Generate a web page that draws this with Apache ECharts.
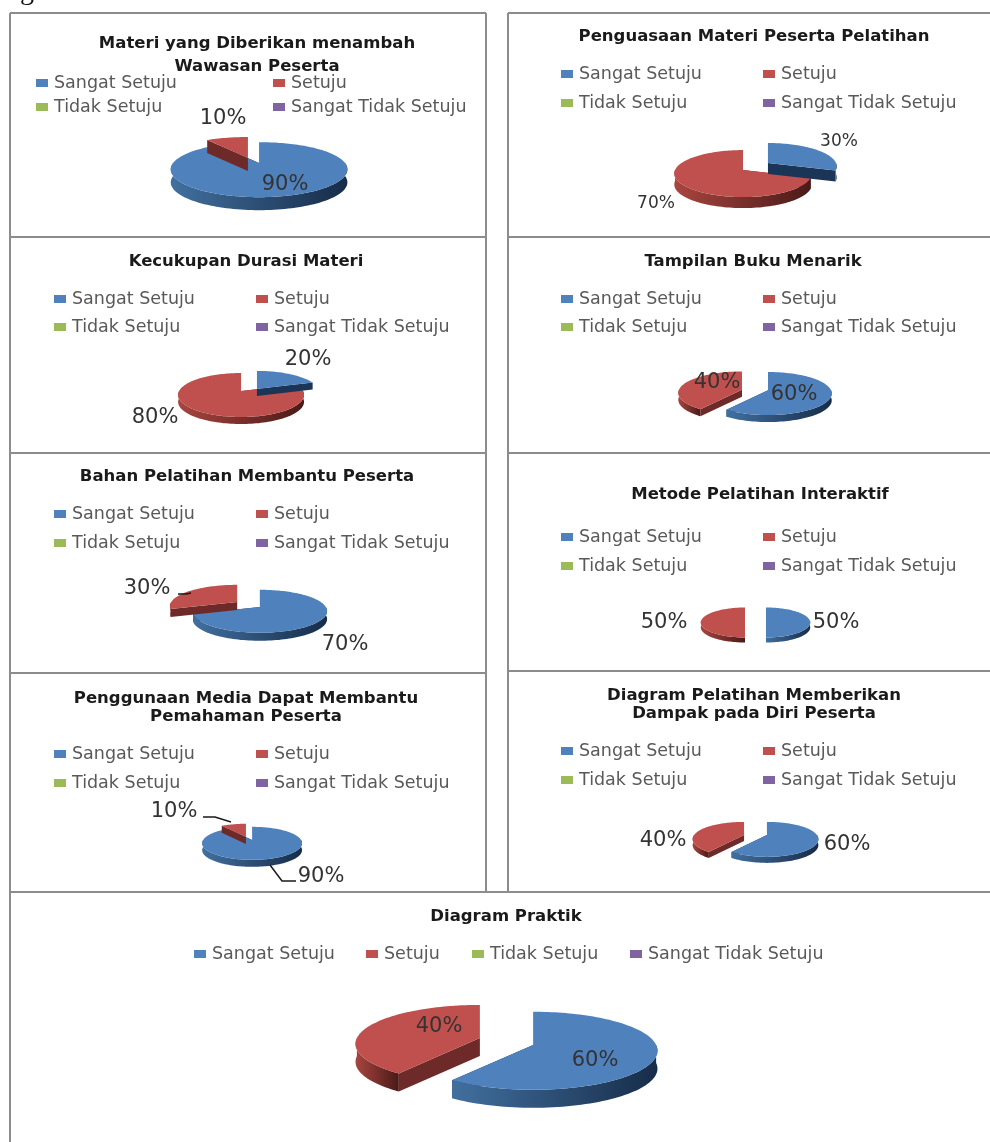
<!DOCTYPE html>
<html>
<head>
<meta charset="utf-8">
<title>Diagram</title>
<script src="https://cdn.jsdelivr.net/npm/echarts@6/dist/echarts.min.js"></script>
<style>
  html,body{margin:0;padding:0;background:#fff;}
  #main{width:990px;height:1142px;}
</style>
</head>
<body>
<div id="main"></div>
<script>
// data
var categories = ['Sangat Setuju', 'Setuju', 'Tidak Setuju', 'Sangat Tidak Setuju'];
var chartTitles = [
  'Materi yang Diberikan menambah\nWawasan Peserta',
  'Penguasaan Materi Peserta Pelatihan',
  'Kecukupan Durasi Materi',
  'Tampilan Buku Menarik',
  'Bahan Pelatihan Membantu Peserta',
  'Metode Pelatihan Interaktif',
  'Penggunaan Media Dapat Membantu\nPemahaman Peserta',
  'Diagram Pelatihan Memberikan\nDampak pada Diri Peserta',
  'Diagram Praktik'
];
var sangatSetuju = [90, 30, 20, 60, 70, 50, 90, 60, 60];
var setuju = [10, 70, 80, 40, 30, 50, 10, 40, 40];
var tidakSetuju = [0, 0, 0, 0, 0, 0, 0, 0, 0];
var sangatTidakSetuju = [0, 0, 0, 0, 0, 0, 0, 0, 0];

var colors = ['#4F81BD', '#C0504D', '#9BBB59', '#8064A2'];
var rimColors = [['#41709F', '#172C49'], ['#A8453F', '#4A1A18']];
var wallColors = ['#1B3557', '#6E2A28'];

// layout of each panel: pie shape, title, legend and label places
var pieLayouts = [
  {cx: 253.5, cy: 160.5, rx: 86, ry: 27.5, p: 0.24, depth: 13, ex: 18, ey: 2.7},
  {cx: 755.5, cy: 166.5, rx: 68, ry: 23.5, p: 0.15, depth: 11, ex: 15.4, ey: 6},
  {cx: 249, cy: 390, rx: 62, ry: 22, p: 0.18, depth: 7, ex: 13.5, ey: 1.3},
  {cx: 755, cy: 390, rx: 63, ry: 21.5, p: 0.15, depth: 7, ex: 13.7, ey: 1},
  {cx: 248.5, cy: 604.5, rx: 66, ry: 21.5, p: 0.2, depth: 8, ex: 14, ey: 4.2},
  {cx: 755.5, cy: 621, rx: 44, ry: 15, p: 0.1, depth: 5, ex: 10.5, ey: 0},
  {cx: 249, cy: 838.5, rx: 49, ry: 16.5, p: 0.2, depth: 7, ex: 10, ey: 1.6},
  {cx: 755.5, cy: 835, rx: 50, ry: 17.5, p: 0.25, depth: 6, ex: 12, ey: 0},
  {cx: 506.5, cy: 1041.5, rx: 123, ry: 39, p: 0.15, depth: 18, ex: 28, ey: 11}
];
var titlePlaces = [
  [257, 44, 23], [754, 37, 18], [246, 262, 18], [753, 262, 18], [247, 477, 18],
  [760, 495, 18], [246, 699, 18], [754, 696, 18], [506, 917, 18]
];
var legendPlaces = [
  [[36, 83], [273, 83], [36, 107], [273, 107]],
  [[561, 74], [763, 74], [561, 103], [763, 103]],
  [[54, 299], [256, 299], [54, 327], [256, 327]],
  [[561, 299], [763, 299], [561, 327], [763, 327]],
  [[54, 514], [256, 514], [54, 543], [256, 543]],
  [[561, 537], [763, 537], [561, 566], [763, 566]],
  [[54, 754], [256, 754], [54, 783], [256, 783]],
  [[561, 751], [763, 751], [561, 780], [763, 780]],
  [[194, 954], [366, 954], [472, 954], [630, 954]]
];
var labelPlaces = [
  [[285, 185], [223, 119]],
  [[839, 142], [656, 204]],
  [[308, 360], [155, 418]],
  [[794, 395], [717, 383]],
  [[345, 645], [147, 589]],
  [[836, 623], [664, 623]],
  [[321, 877], [174, 812]],
  [[847, 845], [663, 841]],
  [[595, 1061], [439, 1027]]
];
var labelSizes = [21, 17, 21, 21, 21, 21, 21, 21, 21];
var leaderLines = [
  [[178, 594], [186, 594], [191, 593]],
  [[203, 817], [215, 817], [231, 822]],
  [[296, 881], [282, 881], [270, 865]]
];
var frameLines = [
  [10, 13, 486, 13], [508, 13, 990, 13],
  [10, 13, 10, 1142], [486, 13, 486, 892], [508, 13, 508, 892],
  [10, 237, 486, 237], [508, 237, 990, 237],
  [10, 453, 486, 453], [508, 453, 990, 453],
  [10, 673, 486, 673], [508, 671, 990, 671],
  [10, 892, 990, 892]
];

var chartFont = '"DejaVu Sans", sans-serif';
var seriesValues = [sangatSetuju, setuju, tidakSetuju, sangatTidakSetuju];

function piePoint(lay, deg, ox, oy, dz) {
  var a = deg * Math.PI / 180;
  var sx = Math.sin(a), sy = -Math.cos(a);
  var f = 1 + lay.p * sy;
  return [lay.cx + ox + lay.rx * sx * f, lay.cy + oy + lay.ry * sy * f + dz];
}

function arcPoints(lay, from, to, ox, oy, dz) {
  var pts = [];
  var steps = Math.max(2, Math.ceil((to - from) / 2));
  for (var i = 0; i <= steps; i++) {
    pts.push(piePoint(lay, from + (to - from) * i / steps, ox, oy, dz));
  }
  return pts;
}

function renderSlice(chartIdx) {
  return function (params, api) {
    var value = api.value(0);
    if (!value) return null;
    var catIdx = api.value(3);
    var lay = pieLayouts[chartIdx];
    var from = api.value(1) / api.value(2) * 360;
    var to = from + value / api.value(2) * 360;
    var mid = (from + to) / 2 * Math.PI / 180;
    var ox = lay.ex * Math.sin(mid), oy = -lay.ey * Math.cos(mid);
    var apex = [lay.cx + ox, lay.cy + oy];
    var d = lay.depth;
    var children = [];
    [from, to].forEach(function (deg) {
      var p = piePoint(lay, deg, ox, oy, 0);
      children.push({
        type: 'polygon',
        shape: {points: [apex, [apex[0], apex[1] + d], [p[0], p[1] + d], p]},
        style: {fill: wallColors[catIdx]}
      });
    });
    var rimFrom = Math.max(from, 90), rimTo = Math.min(to, 270);
    if (rimTo > rimFrom) {
      var upper = arcPoints(lay, rimFrom, rimTo, ox, oy, 0);
      var lower = arcPoints(lay, rimFrom, rimTo, ox, oy, d).reverse();
      children.push({
        type: 'polygon',
        shape: {points: upper.concat(lower)},
        style: {
          fill: new echarts.graphic.LinearGradient(0, 0, 1, 0, [
            {offset: 0, color: rimColors[catIdx][0]},
            {offset: 1, color: rimColors[catIdx][1]}
          ])
        }
      });
    }
    children.push({
      type: 'polygon',
      shape: {points: [apex].concat(arcPoints(lay, from, to, ox, oy, 0))},
      style: {fill: colors[catIdx]}
    });
    var place = labelPlaces[chartIdx][catIdx];
    children.push({
      type: 'text',
      z2: 10,
      style: {
        x: place[0], y: place[1],
        text: value + '%',
        fill: '#333',
        font: labelSizes[chartIdx] + 'px ' + chartFont,
        align: 'center',
        verticalAlign: 'middle'
      }
    });
    return {type: 'group', children: children};
  };
}

var series = categories.map(function (name) {
  // empty series, only here so the legends have something to point at
  return {
    type: 'custom', name: name, coordinateSystem: 'none', data: [],
    renderItem: function () { return null; }
  };
});
var legends = [];
var titles = [];

chartTitles.forEach(function (title, i) {
  var rows = [], before = 0;
  var total = seriesValues.reduce(function (sum, vals) { return sum + vals[i]; }, 0);
  seriesValues.forEach(function (vals, c) {
    rows.push([vals[i], before, total, c]);
    before += vals[i];
  });
  // smaller slice goes on top, like the original
  rows.sort(function (a, b) { return b[0] - a[0]; });
  series.push({
    type: 'custom',
    name: title,
    coordinateSystem: 'none',
    silent: true,
    data: rows,
    renderItem: renderSlice(i)
  });
  var tp = titlePlaces[i];
  titles.push({
    text: title,
    left: tp[0],
    top: tp[1] - tp[2] / 2,
    textAlign: 'center',
    padding: 0,
    textStyle: {fontFamily: chartFont, fontWeight: 'bold', fontSize: 16.5, color: '#1a1a1a', lineHeight: tp[2]}
  });
  categories.forEach(function (name, c) {
    var lp = legendPlaces[i][c];
    legends.push({
      data: [name],
      left: lp[0],
      top: lp[1] - 10,
      padding: 0,
      icon: 'rect',
      itemWidth: 12,
      itemHeight: 8,
      itemGap: 0,
      selectedMode: false,
      textStyle: {fontFamily: chartFont, fontSize: 17.5, color: '#595959', lineHeight: 20, padding: [0, 0, 0, 1]}
    });
  });
});

var graphics = frameLines.map(function (l) {
  return {type: 'line', silent: true, shape: {x1: l[0], y1: l[1], x2: l[2], y2: l[3]}, style: {stroke: '#8C8C8C', lineWidth: 2}};
}).concat(leaderLines.map(function (pts) {
  return {type: 'polyline', silent: true, z: 5, shape: {points: pts}, style: {stroke: '#1a1a1a', fill: null, lineWidth: 1.5}};
}));
// tail of the caption letter cut off at the top of the scan
graphics.push({type: 'text', silent: true, style: {x: 20, y: -22, text: 'g', fill: '#111', font: '28px "Liberation Serif", serif'}});

var myChart = echarts.init(document.getElementById('main'), null, {renderer: 'canvas'});
myChart.setOption({
  animation: false,
  color: colors,
  backgroundColor: '#fff',
  title: titles,
  legend: legends,
  tooltip: {show: false},
  graphic: graphics,
  series: series
});
</script>
</body>
</html>
